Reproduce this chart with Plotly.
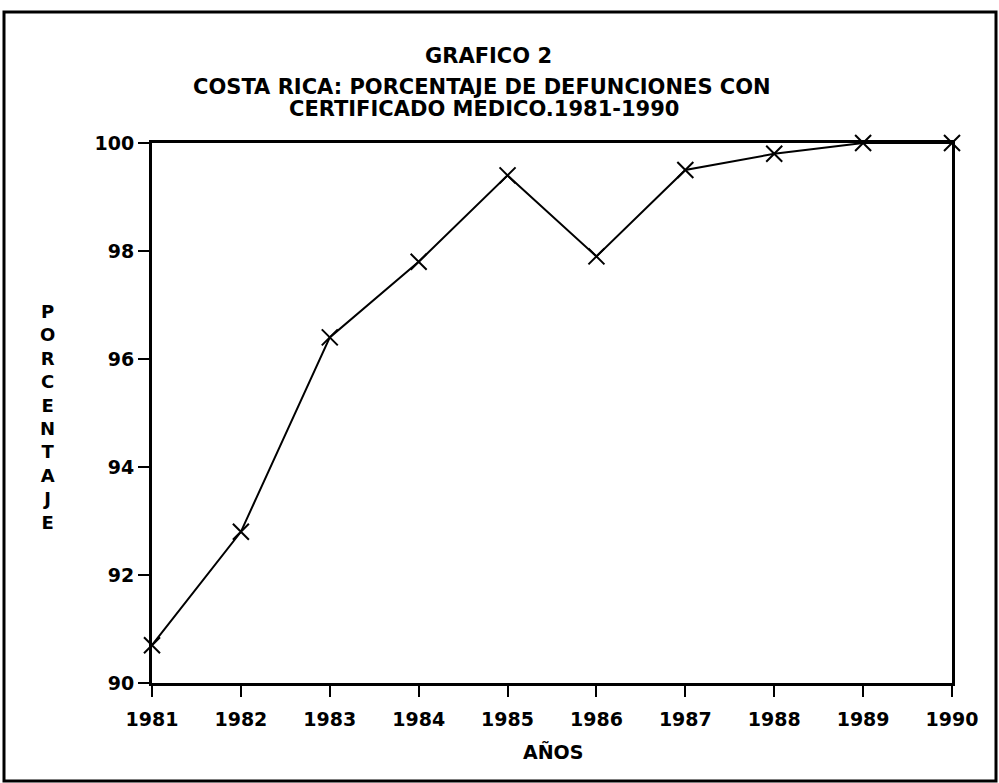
import plotly.graph_objects as go

years = [1981, 1982, 1983, 1984, 1985, 1986, 1987, 1988, 1989, 1990]
porcentaje = [90.7, 92.8, 96.4, 97.8, 99.4, 97.9, 99.5, 99.8, 100.0, 100.0]
y_ticks = [90, 92, 94, 96, 98, 100]

title_main = "GRAFICO 2"
title_line1 = "COSTA RICA: PORCENTAJE DE DEFUNCIONES CON"
title_line2 = "CERTIFICADO MEDICO.1981-1990"
x_title = "AÑOS"
y_title = "PORCENTAJE"

W, H = 999, 783
L, R, T, B = 152, 47, 143, 100
pw, ph = W - L - R, H - T - B

def px_x(x):
    return (x - L) / pw

def px_y(y):
    return (H - B - y) / ph

FONT = "DejaVu Sans"

fig = go.Figure()
fig.add_trace(go.Scatter(
    x=years, y=porcentaje, mode="lines+markers",
    line=dict(color="black", width=2),
    marker=dict(symbol="x-thin-open", size=16, color="black",
                line=dict(color="black", width=2)),
    cliponaxis=False, showlegend=False,
))

fig.update_xaxes(
    range=[1981, 1990], tickmode="array", tickvals=years,
    ticktext=[str(y) for y in years],
    showgrid=False, zeroline=False,
    showline=True, linecolor="black", linewidth=3, mirror=True,
    ticks="outside", ticklen=11, tickwidth=2, tickcolor="black",
    ticklabelstandoff=6,
    tickfont=dict(family=FONT, size=19, color="black", weight="bold"),
)
fig.update_yaxes(
    range=[90, 100], tickmode="array", tickvals=y_ticks,
    ticktext=[str(v) for v in y_ticks],
    showgrid=False, zeroline=False,
    showline=True, linecolor="black", linewidth=3, mirror=True,
    ticks="outside", ticklen=11, tickwidth=2, tickcolor="black",
    tickfont=dict(family=FONT, size=19, color="black", weight="bold"),
)

annots = [
    dict(text=title_main, x=px_x(488), y=px_y(56), size=21),
    dict(text=title_line1, x=px_x(482), y=px_y(87), size=21),
    dict(text=title_line2, x=px_x(484), y=px_y(109), size=21),
    dict(text=x_title, x=px_x(553), y=px_y(751), size=19),
    dict(text="<br>".join(list(y_title)), x=px_x(47), y=px_y(417), size=18),
]
for a in annots:
    fig.add_annotation(
        text=a["text"], x=a["x"], y=a["y"], xref="paper", yref="paper",
        xanchor="center", yanchor="middle", showarrow=False,
        font=dict(family=FONT, size=a["size"], color="black", weight="bold"),
    )

# outer frame around the whole chart
fig.add_shape(type="rect", xref="paper", yref="paper",
              x0=px_x(4), x1=px_x(996), y0=px_y(781), y1=px_y(12),
              line=dict(color="black", width=3))

fig.update_layout(
    width=W, height=H,
    margin=dict(l=L, r=R, t=T, b=B),
    paper_bgcolor="white", plot_bgcolor="white",
)

fig.write_html("out.html", config={"displayModeBar": False},
               post_script="document.body.style.margin='0';")
